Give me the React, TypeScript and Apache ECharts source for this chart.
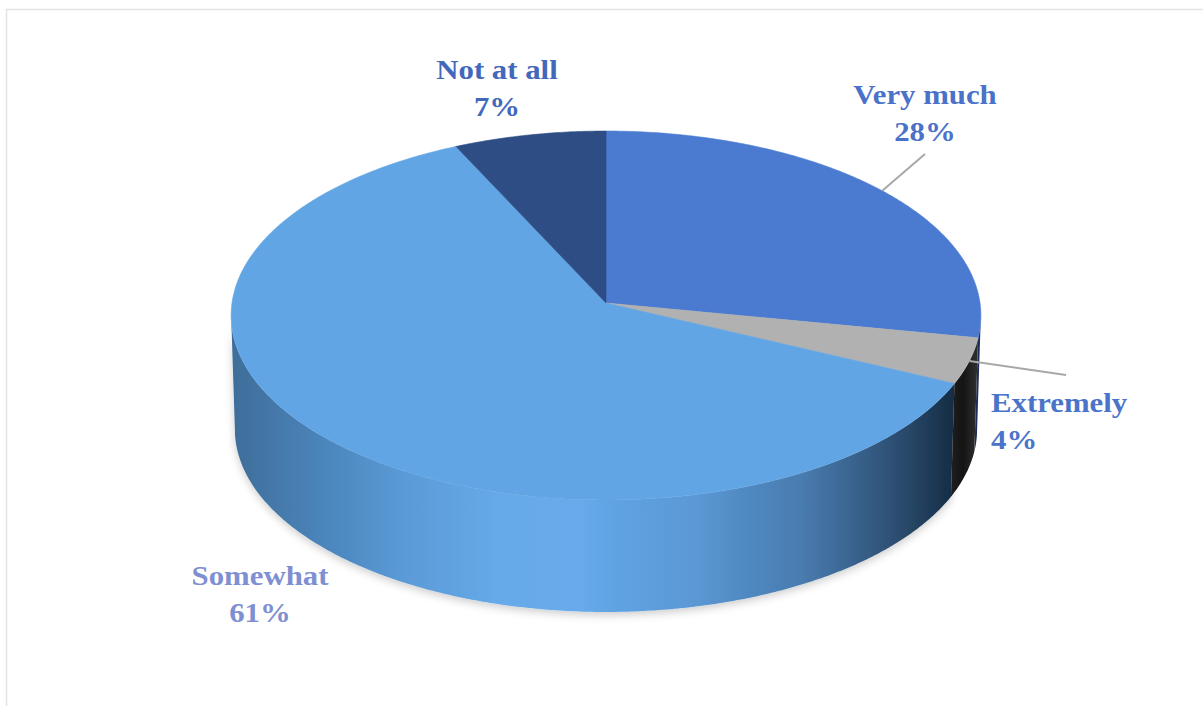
import React, { useEffect, useRef } from "react";
import * as echarts from "echarts";

// Survey answers and their shares, in clockwise order from twelve o'clock.
const categories = ["Very much", "Extremely", "Somewhat", "Not at all"];
const shares = [28, 4, 61, 7];

const topColors = ["#4a7bd0", "#b1b1b1", "#62a5e4", "#2d4d84"];
const labelColors = ["#4a72c8", "#4a74ca", "#7f90d2", "#4268bc"];

// Perspective disc: centre, radii and foreshortening of the top face.
const CX = 606;
const CY = 303;
const RX = 374;
const RY = 183.6;
const K = 0.0677;
// The bottom rim sits lower and very slightly smaller than the top rim.
const DEPTH = 114;
const BOTTOM_SCALE = 0.99;

const TAU = Math.PI * 2;
const RIGHT_LIMIT = Math.acos(-K);
const LEFT_LIMIT = TAU - RIGHT_LIMIT;

const rim = (t: number, scale = 1, dy = 0): number[] => {
  const p = scale / (1 + K * Math.cos(t));
  return [CX + RX * Math.sin(t) * p, CY + dy - RY * Math.cos(t) * p];
};

const total = shares.reduce((a, b) => a + b, 0);
const sliceAngles = (i: number): [number, number] => {
  const before = shares.slice(0, i).reduce((a, b) => a + b, 0);
  return [(before / total) * TAU, ((before + shares[i]) / total) * TAU];
};

const arcPoints = (a: number, b: number, scale = 1, dy = 0): number[][] => {
  const steps = Math.max(2, Math.ceil((b - a) / 0.01));
  const pts: number[][] = [];
  for (let s = 0; s <= steps; s++) pts.push(rim(a + ((b - a) * s) / steps, scale, dy));
  return pts;
};

// Banded side shading runs left to right across the whole front of the disc.
const somewhatSide: [number, string][] = [
  [232, "#3f6d99"],
  [320, "#4a84ba"],
  [403, "#5a9ad6"],
  [500, "#66aae9"],
  [580, "#67aaeb"],
  [620, "#5fa2e2"],
  [700, "#5a97d3"],
  [750, "#4f88c0"],
  [800, "#4a7cb0"],
  [850, "#3a6590"],
  [900, "#2b4c6e"],
  [955, "#142c44"],
];
const extremelySide: [number, string][] = [
  [950, "#1f1f1f"],
  [963, "#141414"],
  [978, "#303030"],
];

const horizontalFill = (stops: [number, string][]) => {
  const x0 = stops[0][0];
  const x1 = stops[stops.length - 1][0];
  return new echarts.graphic.LinearGradient(
    x0,
    0,
    x1,
    0,
    stops.map(([x, color]) => ({ offset: (x - x0) / (x1 - x0), color })),
    true
  );
};

const sideFills = [
  "#1c2f5c",
  horizontalFill(extremelySide),
  horizontalFill(somewhatSide),
  "#22396a",
];

// Label placement: centre of the text block, alignment, and optional leader end.
const labelLayout: { x: number; y: number; align: string; leader?: number[] }[] = [
  { x: 925, y: 113, align: "center", leader: [925, 154] },
  { x: 991, y: 421, align: "left", leader: [1066, 375] },
  { x: 260, y: 594, align: "center" },
  { x: 497, y: 88, align: "center" },
];

const seriesData = categories.map((name, i) => ({ name, value: shares[i] }));

const SHADOWED_SIDE = categories.indexOf("Somewhat");

const renderSide = (params: any) => {
  const i = params.dataIndex;
  const [a0, b0] = sliceAngles(i);
  const a = Math.max(a0, RIGHT_LIMIT);
  const b = Math.min(b0, LEFT_LIMIT);
  if (b <= a) return { type: "group", children: [] };
  const upper = arcPoints(a, b);
  const lower = arcPoints(a, b, BOTTOM_SCALE, DEPTH).reverse();
  const soft =
    i === SHADOWED_SIDE
      ? { shadowBlur: 8, shadowColor: "rgba(0,0,0,0.2)", shadowOffsetY: 3 }
      : {};
  return {
    type: "polygon",
    // The largest wall goes underneath so its soft shadow stays off its neighbours.
    z2: i === SHADOWED_SIDE ? 0 : 1,
    shape: { points: upper.concat(lower) },
    style: { fill: sideFills[i], ...soft },
  };
};

const renderTop = (params: any) => {
  const i = params.dataIndex;
  const [a, b] = sliceAngles(i);
  return {
    type: "polygon",
    shape: { points: [[CX, CY], ...arcPoints(a, b)] },
    style: { fill: topColors[i], stroke: topColors[i], lineWidth: 0.6 },
  };
};

const renderLabel = (params: any, api: any) => {
  const i = params.dataIndex;
  const layout = labelLayout[i];
  const [a, b] = sliceAngles(i);
  const children: any[] = [];
  if (layout.leader) {
    const [x1, y1] = rim((a + b) / 2);
    children.push({
      type: "line",
      shape: { x1, y1, x2: layout.leader[0], y2: layout.leader[1] },
      style: { stroke: "#a8a8a8", lineWidth: 2 },
    });
  }
  children.push({
    type: "text",
    x: layout.x,
    y: layout.y,
    scaleX: 1.1,
    style: {
      text: `${categories[i]}\n${api.value(0)}%`,
      x: 0,
      y: 0,
      fill: labelColors[i],
      font: 'bold 28px "Liberation Serif", serif',
      lineHeight: 37,
      align: layout.align,
      verticalAlign: "middle",
    },
  });
  return { type: "group", children };
};

const buildOption = () => ({
  animation: false,
  backgroundColor: "#ffffff",
  graphic: [
    {
      type: "line",
      silent: true,
      shape: { x1: 6, y1: 9.5, x2: 1203, y2: 9.5 },
      style: { stroke: "#e4e4e4", lineWidth: 1.5 },
    },
    {
      type: "line",
      silent: true,
      shape: { x1: 6.5, y1: 9, x2: 6.5, y2: 706 },
      style: { stroke: "#e4e4e4", lineWidth: 1.5 },
    },
  ],
  series: [
    { type: "custom", coordinateSystem: "none", z: 1, silent: true, data: seriesData, renderItem: renderSide },
    { type: "custom", coordinateSystem: "none", z: 2, silent: true, data: seriesData, renderItem: renderTop },
    { type: "custom", coordinateSystem: "none", z: 3, silent: true, data: seriesData, renderItem: renderLabel },
  ],
});

export default function App() {
  const ref = useRef<HTMLDivElement>(null);
  useEffect(() => {
    const chart = echarts.init(ref.current!, undefined, { renderer: "svg" });
    chart.setOption(buildOption());
    return () => chart.dispose();
  }, []);
  return (
    <div
      ref={ref}
      style={{ position: "fixed", left: 0, top: 0, width: 1203, height: 706 }}
    />
  );
}
